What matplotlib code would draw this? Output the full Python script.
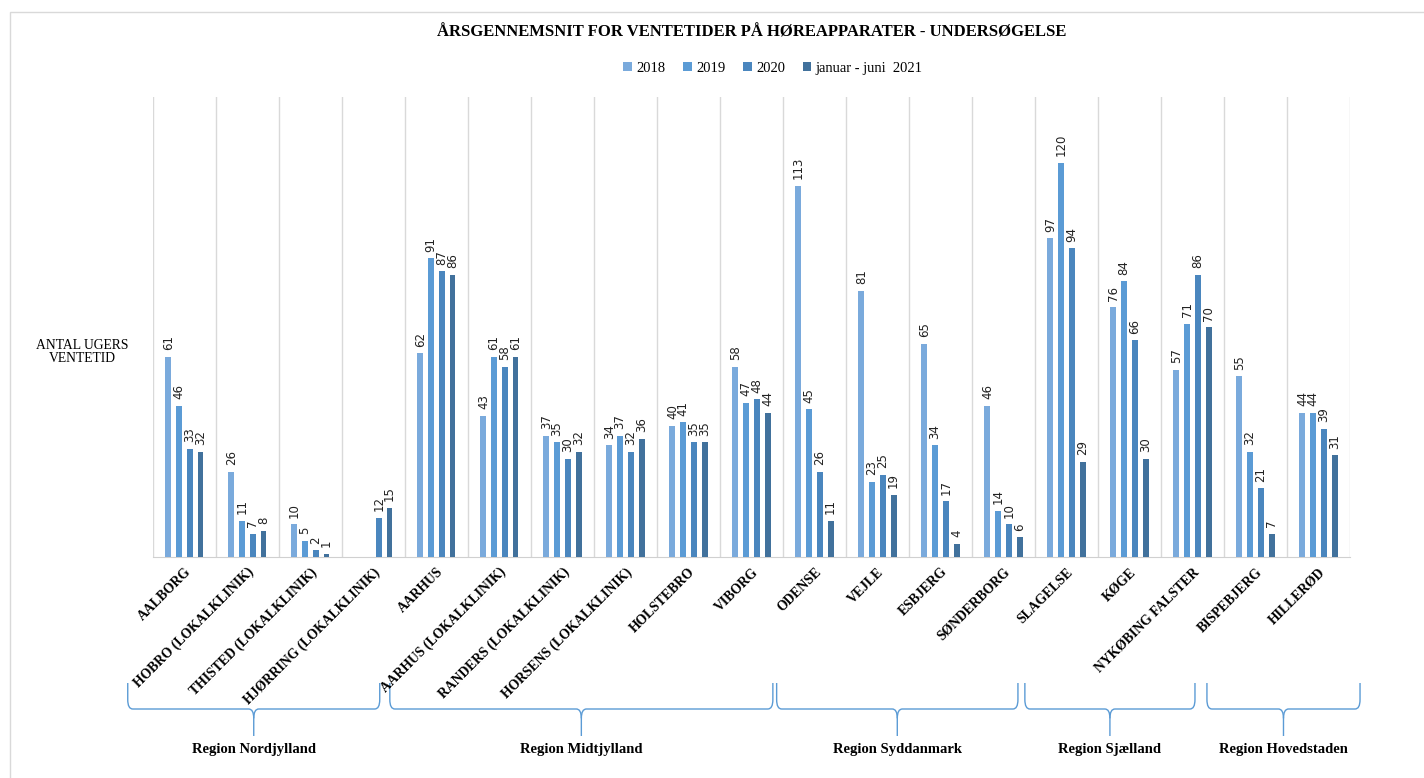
import numpy as np
import matplotlib
matplotlib.use('Agg')
import matplotlib.pyplot as plt
from matplotlib.path import Path
from matplotlib.patches import PathPatch, Rectangle
from matplotlib.transforms import blended_transform_factory

# Data
afdelinger = ['AALBORG', 'HOBRO (LOKALKLINIK)', 'THISTED (LOKALKLINIK)', 'HJØRRING (LOKALKLINIK)',
              'AARHUS', 'AARHUS (LOKALKLINIK)', 'RANDERS (LOKALKLINIK)', 'HORSENS (LOKALKLINIK)',
              'HOLSTEBRO', 'VIBORG', 'ODENSE', 'VEJLE', 'ESBJERG', 'SØNDERBORG',
              'SLAGELSE', 'KØGE', 'NYKØBING FALSTER', 'BISPEBJERG', 'HILLERØD']
v2018 = [61, 26, 10, np.nan, 62, 43, 37, 34, 40, 58, 113, 81, 65, 46, 97, 76, 57, 55, 44]
v2019 = [46, 11, 5, np.nan, 91, 61, 35, 37, 41, 47, 45, 23, 34, 14, 120, 84, 71, 32, 44]
v2020 = [33, 7, 2, 12, 87, 58, 30, 32, 35, 48, 26, 25, 17, 10, 94, 66, 86, 21, 39]
v2021 = [32, 8, 1, 15, 86, 61, 32, 36, 35, 44, 11, 19, 4, 6, 29, 30, 70, 7, 31]
serier = ['2018', '2019', '2020', 'januar - juni  2021']
regioner = ['Region Nordjylland', 'Region Midtjylland', 'Region Syddanmark',
            'Region Sjælland', 'Region Hovedstaden']
# klammernes spænd i kategori-enheder (venstre, højre)
klammer = [(-0.9, 3.1), (3.26, 9.34), (9.4, 13.23), (13.34, 16.04), (16.23, 18.66)]

farver = ['#7aaadc', '#5b9bd5', '#4a86be', '#41719c']
serif = 'Liberation Serif'

fig = plt.figure(figsize=(14.24, 7.78), dpi=100)
ax = fig.add_axes([0.1074, 0.284, 0.8406, 0.591])

x = np.arange(len(afdelinger))
bredde = 0.095
afstand = 0.17
for i, (vals, farve, navn) in enumerate(zip([v2018, v2019, v2020, v2021], farver, serier)):
    pos = x + (i - 1.5) * afstand
    ax.bar(pos, vals, width=bredde, color=farve, label=navn, zorder=3)
    for p, v in zip(pos, vals):
        if not np.isnan(v):
            ax.text(p, v + 2, f'{int(v)}', rotation=90, ha='center', va='bottom',
                    fontsize=8.5, family='Liberation Sans Narrow', color='#222222')

ax.set_xlim(-0.5, len(afdelinger) - 0.5)
ax.set_ylim(0, 140)
ax.set_yticks([])
for s in ['top', 'right', 'left']:
    ax.spines[s].set_visible(False)
ax.spines['bottom'].set_color('#d0d0d0')
for g in np.arange(-0.5, len(afdelinger), 1):
    ax.axvline(g, color='#d9d9d9', lw=1, zorder=0)

ax.set_xticks(x)
ax.set_xticklabels(afdelinger, rotation=45, ha='right', va='top', rotation_mode='anchor',
                   fontsize=9.8, fontweight='bold', family=serif)
ax.tick_params(axis='x', length=0, pad=6)

ax.set_title('ÅRSGENNEMSNIT FOR VENTETIDER PÅ HØREAPPARATER - UNDERSØGELSE',
             fontsize=12, fontweight='bold', family=serif, pad=44)
ax.legend(loc='lower center', bbox_to_anchor=(0.518, 1.02), ncol=4, frameon=False,
          prop={'family': serif, 'size': 10.5}, handlelength=0.6, handleheight=0.6,
          columnspacing=1.2, handletextpad=0.3)

fig.text(82 / 1424, 1 - 352 / 778, 'ANTAL UGERS\nVENTETID', ha='center', va='center',
         fontsize=9.8, family=serif, linespacing=1.0)

# Klammer under regionerne
trans = blended_transform_factory(ax.transData, fig.transFigure)
yt, yh, yb = 1 - 683 / 778, 1 - 709 / 778, 1 - 736 / 778
r = 0.08
dy = 0.012
for navn, (x0, x1) in zip(regioner, klammer):
    xm = (x0 + x1) / 2
    venstre = [(x0, yt), (x0, yh + dy), (x0, yh), (x0 + r, yh),
               (xm - r, yh), (xm, yh), (xm, yh - dy), (xm, yb)]
    hojre = [(x1, yt), (x1, yh + dy), (x1, yh), (x1 - r, yh),
             (xm + r, yh), (xm, yh), (xm, yh - dy)]
    koder = [Path.MOVETO, Path.LINETO, Path.CURVE3, Path.CURVE3,
             Path.LINETO, Path.CURVE3, Path.CURVE3, Path.LINETO]
    for vv in [venstre, hojre]:
        ax.add_patch(PathPatch(Path(vv, koder[:len(vv)]), transform=trans, fill=False,
                               edgecolor='#5b9bd5', lw=1.0, clip_on=False))
    ax.text(xm, 1 - 749 / 778, navn, transform=trans, ha='center', va='center',
            fontsize=10.5, fontweight='bold', family=serif)

fig.patches.append(Rectangle((10 / 1424, -0.01), 1.0, 1 - 12 / 778 + 0.01,
                             transform=fig.transFigure, fill=False,
                             edgecolor='#d9d9d9', lw=1))

fig.savefig('out.png', dpi=100)
